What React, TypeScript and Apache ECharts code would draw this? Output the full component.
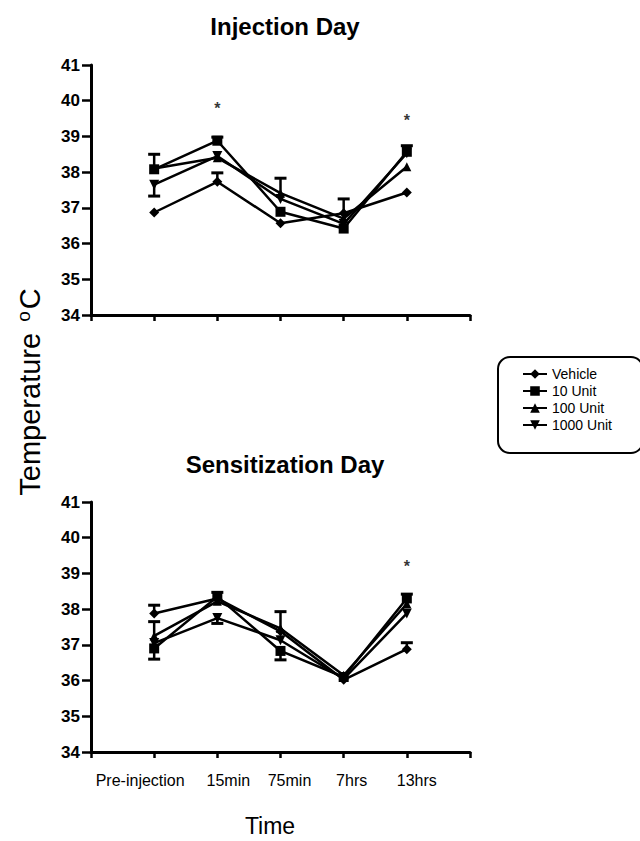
import React, { useEffect, useRef } from "react";
import * as echarts from "echarts";

const categories = ["Pre-injection", "15min", "75min", "7hrs", "13hrs"];
const seriesNames = ["Vehicle", "10 Unit", "100 Unit", "1000 Unit"];
const symbols = ["diamond", "rect", "triangle", "triangle"];
const symbolRotates = [0, 0, 0, 180];
const symbolSizes = [10, 10, 9, 10];
const yTicks = [34, 35, 36, 37, 38, 39, 40, 41];

// Injection Day
const injVehicle = [36.87, 37.73, 36.57, 36.85, 37.43];
const inj10 = [38.08, 38.88, 36.89, 36.42, 38.57];
const inj100 = [38.1, 38.4, 37.41, 36.7, 38.15];
const inj1000 = [37.65, 38.45, 37.25, 36.55, 38.53];
const injVehicleErr = [0, 0.25, 0, 0.4, 0];
const inj10Err = [0.42, 0.1, 0, 0, 0.17];
const inj100Err = [0, 0, 0.42, 0, 0];
const inj1000Err = [-0.32, 0, 0, 0, 0];
const injSigIdx = [1, 4];
const injSigY = [39.78, 39.46];

// Sensitization Day
const senVehicle = [37.88, 38.3, 37.38, 36.02, 36.88];
const sen10 = [36.9, 38.35, 36.83, 36.1, 38.3];
const sen100 = [37.25, 38.22, 37.46, 36.15, 38.15];
const sen1000 = [37.05, 37.75, 37.13, 36.05, 37.88];
const senVehicleErr = [0.23, 0, 0, 0, 0.18];
const sen10Err = [-0.3, 0.12, -0.25, 0, 0.12];
const sen100Err = [0.4, 0, 0.47, 0, 0];
const sen1000Err = [0, -0.15, 0, 0, 0];
const senSigIdx = [4];
const senSigY = [39.2];

const FONT = "'Liberation Sans', Arial, sans-serif";

const injSeries = [injVehicle, inj10, inj100, inj1000];
const injErrs = [injVehicleErr, inj10Err, inj100Err, inj1000Err];
const senSeries = [senVehicle, sen10, sen100, sen1000];
const senErrs = [senVehicleErr, sen10Err, sen100Err, sen1000Err];

function errRender(params: any, api: any) {
  const x = api.value(0);
  const y = api.value(1);
  const e = api.value(2);
  const p0 = api.coord([x, y]);
  const p1 = api.coord([x, y + e]);
  return {
    type: "group",
    children: [
      {
        type: "line",
        shape: { x1: p0[0], y1: p0[1], x2: p1[0], y2: p1[1] },
        style: { stroke: "#000", lineWidth: 2.5 },
      },
      {
        type: "line",
        shape: { x1: p1[0] - 6, y1: p1[1], x2: p1[0] + 6, y2: p1[1] },
        style: { stroke: "#000", lineWidth: 3 },
      },
    ],
  };
}

function buildSeries(values: number[][], errs: number[][], sigIdx: number[], sigY: number[], axis: number) {
  const out: any[] = [];
  values.forEach((vals, s) => {
    out.push({
      name: seriesNames[s],
      type: "line",
      xAxisIndex: axis,
      yAxisIndex: axis,
      data: vals.map((v, i) => [i + 1, v]),
      symbol: symbols[s],
      symbolRotate: symbolRotates[s],
      symbolSize: symbolSizes[s],
      itemStyle: { color: "#000" },
      lineStyle: { color: "#000", width: 2.5 },
      z: 3,
    });
  });
  const errData: number[][] = [];
  values.forEach((vals, s) => {
    vals.forEach((v, i) => {
      const e = errs[s][i];
      if (e !== 0) errData.push([i + 1, v, e]);
    });
  });
  out.push({
    name: "err" + axis,
    type: "custom",
    xAxisIndex: axis,
    yAxisIndex: axis,
    renderItem: errRender,
    data: errData,
    z: 2,
  });
  out.push({
    name: "sig" + axis,
    type: "scatter",
    xAxisIndex: axis,
    yAxisIndex: axis,
    symbolSize: 0,
    data: sigIdx.map((idx, k) => [idx + 1, sigY[k]]),
    label: {
      show: true,
      position: "inside",
      formatter: "*",
      color: "#000",
      fontSize: 16,
      fontWeight: "bold",
      fontFamily: FONT,
    },
  });
  return out;
}

const labelPad: Record<string, number[]> = {
  "Pre-injection": [0, 28, 0, 0],
  "15min": [0, 0, 0, 22],
  "75min": [0, 0, 0, 18],
  "7hrs": [0, 0, 0, 16],
  "13hrs": [0, 0, 0, 20],
};

function xAxisDef(gridIndex: number, showLabels: boolean) {
  return {
    type: "value",
    gridIndex,
    min: 0,
    max: 6,
    interval: 1,
    axisLine: { show: true, lineStyle: { color: "#000", width: 3 } },
    axisTick: { show: true, length: 6, lineStyle: { color: "#000", width: 2.5 } },
    splitLine: { show: false },
    axisLabel: {
      show: showLabels,
      margin: 20,
      color: "#000",
      fontSize: 16,
      fontFamily: FONT,
      formatter: (v: number) => {
        const c = categories[v - 1];
        if (!c) return "";
        return "{k" + (v - 1) + "|" + c + "}";
      },
      rich: Object.fromEntries(
        categories.map((c, i) => [
          "k" + i,
          { fontSize: 16, fontFamily: FONT, color: "#000", padding: labelPad[c] },
        ])
      ),
    },
  };
}

function yAxisDef(gridIndex: number) {
  return {
    type: "value",
    gridIndex,
    min: yTicks[0],
    max: yTicks[yTicks.length - 1],
    interval: 1,
    axisLine: { show: true, lineStyle: { color: "#000", width: 3 } },
    axisTick: { show: true, length: 9, lineStyle: { color: "#000", width: 2.5 } },
    splitLine: { show: false },
    axisLabel: {
      color: "#000",
      fontSize: 17,
      fontWeight: "bold",
      fontFamily: FONT,
      margin: 11,
    },
  };
}

export default function App() {
  const ref = useRef<HTMLDivElement>(null);
  useEffect(() => {
    if (!ref.current) return;
    const chart = echarts.init(ref.current, undefined, { renderer: "svg" });
    chart.setOption({
      animation: false,
      backgroundColor: "#fff",
      title: [
        {
          text: "Injection Day",
          left: 280,
          top: 9,
          textAlign: "center",
          textStyle: { fontSize: 24, fontWeight: "bold", fontFamily: FONT, color: "#000" },
        },
        {
          text: "Sensitization Day",
          left: 280,
          top: 447,
          textAlign: "center",
          textStyle: { fontSize: 24, fontWeight: "bold", fontFamily: FONT, color: "#000" },
        },
      ],
      legend: {
        data: seriesNames,
        orient: "vertical",
        left: 498,
        top: 357,
        padding: [10, 31, 21, 24],
        itemGap: 3,
        itemWidth: 24,
        itemHeight: 12,
        borderColor: "#000",
        borderWidth: 2,
        borderRadius: 12,
        textStyle: { fontSize: 14, fontFamily: FONT, color: "#000" },
        selectedMode: false,
      },
      grid: [
        { left: 91, top: 65, width: 379, height: 250 },
        { left: 91, top: 502, width: 379, height: 250 },
      ],
      xAxis: [xAxisDef(0, false), xAxisDef(1, true)],
      yAxis: [yAxisDef(0), yAxisDef(1)],
      graphic: [
        {
          type: "text",
          x: 30,
          y: 392,
          rotation: Math.PI / 2,
          style: {
            text: "Temperature {s|o}C",
            rich: {
              s: { fontSize: 19, fontFamily: FONT, fill: "#000", verticalAlign: "top", padding: [0, 2, 14, 3] },
            },
            fontSize: 29,
            fontFamily: FONT,
            fill: "#000",
            align: "center",
            verticalAlign: "middle",
          },
        },
        {
          type: "text",
          x: 270,
          y: 826,
          style: {
            text: "Time",
            fontSize: 23,
            fontFamily: FONT,
            fill: "#000",
            align: "center",
            verticalAlign: "middle",
          },
        },
      ],
      series: [
        ...buildSeries(injSeries, injErrs, injSigIdx, injSigY, 0),
        ...buildSeries(senSeries, senErrs, senSigIdx, senSigY, 1),
      ],
    });
    return () => chart.dispose();
  }, []);
  return (
    <div
      ref={ref}
      style={{ position: "fixed", left: 0, top: 0, width: 640, height: 841, background: "#fff" }}
    />
  );
}
